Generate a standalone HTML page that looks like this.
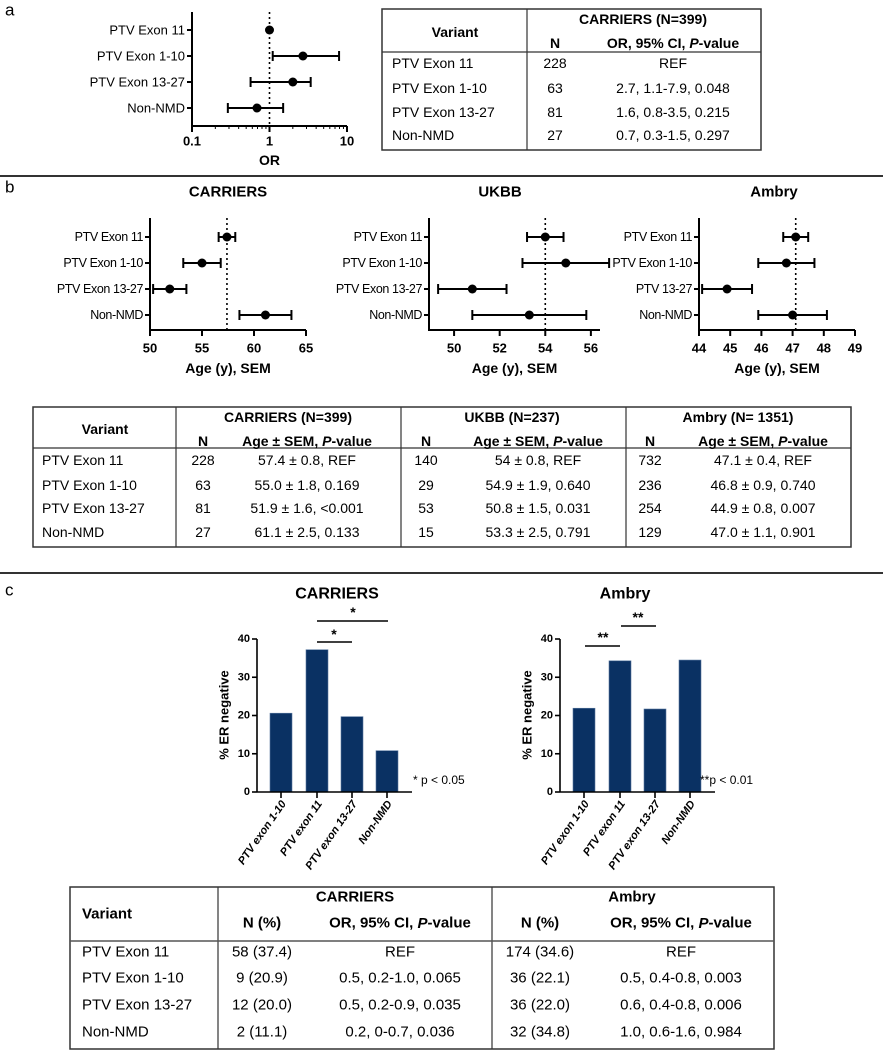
<!DOCTYPE html>
<html><head><meta charset="utf-8"><style>
html,body{margin:0;padding:0;background:#fff}
svg{display:block;font-family:"Liberation Sans",Arial,sans-serif}
</style></head><body>
<svg id="fig" width="883" height="1050" viewBox="0 0 883 1050" xmlns="http://www.w3.org/2000/svg"></svg>
<script>
// ---------- DATA ----------
const forestLabelsA = ["PTV Exon 11","PTV Exon 1-10","PTV Exon 13-27","Non-NMD"];
const forestOR = [1.0, 2.7, 2.0, 0.69];
const forestLo = [1.0, 1.1, 0.57, 0.29];
const forestHi = [1.0, 7.9, 3.4, 1.5];
const forestTicksA = [0.1, 1, 10];

const carriersLabelsB = ["PTV Exon 11","PTV Exon 1-10","PTV Exon 13-27","Non-NMD"];
const carriersAge = [57.4, 55.0, 51.9, 61.1];
const carriersSem = [0.8, 1.8, 1.6, 2.5];
const carriersTicks = [50, 55, 60, 65];
const ukbbLabelsB = ["PTV Exon 11","PTV Exon 1-10","PTV Exon 13-27","Non-NMD"];
const ukbbAge = [54.0, 54.9, 50.8, 53.3];
const ukbbSem = [0.8, 1.9, 1.5, 2.5];
const ukbbTicks = [50, 52, 54, 56];
const ambryLabelsB = ["PTV Exon 11","PTV Exon 1-10","PTV 13-27","Non-NMD"];
const ambryAge = [47.1, 46.8, 44.9, 47.0];
const ambrySem = [0.4, 0.9, 0.8, 1.1];
const ambryTicks = [44, 45, 46, 47, 48, 49];

const barCategories = ["PTV exon 1-10","PTV exon 11","PTV exon 13-27","Non-NMD"];
const carriersERneg = [20.6, 37.2, 19.7, 10.8];
const ambryERneg = [21.9, 34.3, 21.7, 34.5];
const barTicks = [0, 10, 20, 30, 40];

const tableARows = [["PTV Exon 11","228","REF"],["PTV Exon 1-10","63","2.7, 1.1-7.9, 0.048"],["PTV Exon 13-27","81","1.6, 0.8-3.5, 0.215"],["Non-NMD","27","0.7, 0.3-1.5, 0.297"]];
const tableBRows = [
 ["PTV Exon 11","228","57.4 ± 0.8, REF","140","54 ± 0.8, REF","732","47.1 ± 0.4, REF"],
 ["PTV Exon 1-10","63","55.0 ± 1.8, 0.169","29","54.9 ± 1.9, 0.640","236","46.8 ± 0.9, 0.740"],
 ["PTV Exon 13-27","81","51.9 ± 1.6, <0.001","53","50.8 ± 1.5, 0.031","254","44.9 ± 0.8, 0.007"],
 ["Non-NMD","27","61.1 ± 2.5, 0.133","15","53.3 ± 2.5, 0.791","129","47.0 ± 1.1, 0.901"]];
const tableCRows = [
 ["PTV Exon 11","58 (37.4)","REF","174 (34.6)","REF"],
 ["PTV Exon 1-10","9 (20.9)","0.5, 0.2-1.0, 0.065","36 (22.1)","0.5, 0.4-0.8, 0.003"],
 ["PTV Exon 13-27","12 (20.0)","0.5, 0.2-0.9, 0.035","36 (22.0)","0.6, 0.4-0.8, 0.006"],
 ["Non-NMD","2 (11.1)","0.2, 0-0.7, 0.036","32 (34.8)","1.0, 0.6-1.6, 0.984"]];

// ---------- HELPERS ----------
const NS = "http://www.w3.org/2000/svg";
const svg = document.getElementById("fig");
function mk(tag, attrs, name){
  const el = document.createElementNS(NS, tag);
  for (const k in attrs) el.setAttribute(k, attrs[k]);
  
  
  svg.appendChild(el);
  return el;
}
function line(x1,y1,x2,y2,w,name,extra){
  const a = {x1:x1,y1:y1,x2:x2,y2:y2,stroke:"#000","stroke-width":w};
  if (extra) for (const k in extra) a[k]=extra[k];
  return mk("line", a, name);
}
function text(x,y,s,size,anchor,name,opts){
  opts = opts||{};
  const a = {x:x,y:y,"font-size":size,"text-anchor":anchor,"dominant-baseline":"central",fill:opts.fill||"#000"};
  if (opts.bold) a["font-weight"]="bold";
  if (opts.italic) a["font-style"]="italic";
  if (opts.transform) a.transform=opts.transform;
  if (opts.ls) a["letter-spacing"]=opts.ls;
  const el = mk("text", a, name);
  if (opts.pItalic && s.indexOf("P-")>=0){
    const i = s.indexOf("P-");
    el.appendChild(document.createTextNode(s.slice(0,i)));
    const t = document.createElementNS(NS,"tspan");
    t.setAttribute("font-style","italic");
    t.textContent="P";
    el.appendChild(t);
    el.appendChild(document.createTextNode(s.slice(i+1)));
  } else el.textContent = s;
  return el;
}

// ---------- PANEL LETTERS / DIVIDERS ----------
text(5,10,"a",17,"start","panel-a-label");
text(5,187,"b",17,"start","panel-b-label");
text(5,590,"c",17,"start","panel-c-label");
line(0,176,883,176,2,"divider-a-b",{stroke:"#333"});
line(0,573,883,573,2,"divider-b-c",{stroke:"#333"});

// ---------- PANEL A FOREST (log) ----------
(function(){
  const x0=192, x1=347, yTop=12, yAx=126, rows=[30,56,82,108];
  const lmin=Math.log10(0.1), lmax=Math.log10(10);
  const xs = v => x0 + (Math.log10(v)-lmin)/(lmax-lmin)*(x1-x0);
  line(x0,yTop,x0,yAx,2,"a-y-axis");
  line(x0-1,yAx,x1,yAx,2,"a-x-axis");
  for (let d=0; d<2; d++) for (let m=1; m<10; m++){
    const v = Math.pow(10,d-1)*m; const big = (m===1);
    line(xs(v),yAx,xs(v),yAx+(big?6:3),big?2:1,"a-x-tick");
  }
  line(x1,yAx,x1,yAx+6,2,"a-x-tick");
  forestTicksA.forEach(t=>text(xs(t),141,String(t),13,"middle","a-x-tick-label",{bold:true}));
  text((x0+x1)/2,160,"OR",14,"middle","a-x-axis-title",{bold:true});
  line(xs(1),yTop,xs(1),yAx,1.6,"a-reference-line",{"stroke-dasharray":"2,3"});
  forestLabelsA.forEach((lab,i)=>{
    const y=rows[i];
    line(x0-5,y,x0,y,2,"a-y-tick");
    text(x0-7,y,lab,13,"end","a-row-label");
    if (forestHi[i]!==forestLo[i]){
      line(xs(forestLo[i]),y,xs(forestHi[i]),y,2,"a-ci-line");
      line(xs(forestLo[i]),y-5,xs(forestLo[i]),y+5,2,"a-ci-cap");
      line(xs(forestHi[i]),y-5,xs(forestHi[i]),y+5,2,"a-ci-cap");
    }
    mk("circle",{cx:xs(forestOR[i]),cy:y,r:4.5,fill:"#000"},"a-or-point");
  });
})();

// ---------- TABLE A ----------
(function(){
  mk("rect",{x:382,y:9,width:379,height:141,fill:"none",stroke:"#333","stroke-width":1.5},"table-a-border");
  line(527,9,527,150,1.2,"table-a-divider",{stroke:"#333"});
  line(382,52,761,52,1.2,"table-a-header-line",{stroke:"#333"});
  text(455,32,"Variant",14,"middle","table-a-header-variant",{bold:true});
  text(643,19,"CARRIERS (N=399)",14,"middle","table-a-header-carriers",{bold:true});
  text(555,43,"N",14,"middle","table-a-header-n",{bold:true});
  text(673,43,"OR, 95% CI, P-value",14,"middle","table-a-header-or",{bold:true,pItalic:true});
  const ys=[63,88,112,135];
  tableARows.forEach((r,i)=>{
    text(392,ys[i],r[0],14,"start","table-a-variant");
    text(555,ys[i],r[1],14,"middle","table-a-n");
    text(673,ys[i],r[2],14,"middle","table-a-or");
  });
})();

// ---------- PANEL B FORESTS ----------
function ageForest(title,titleX,labels,ages,sems,ticks,axL,axR,vL,vR,pfx){
  const rows=[237,263,289,315], yTop=218, yAx=330;
  const xs = v => axL + (v-vL)/(vR-vL)*(axR-axL);
  text(titleX,192,title,15,"middle",pfx+"-title",{bold:true});
  line(axL,yTop,axL,yAx,2,pfx+"-y-axis");
  line(axL-1,yAx,axR,yAx,2,pfx+"-x-axis");
  ticks.forEach(t=>{
    line(xs(t),yAx,xs(t),yAx+6,2,pfx+"-x-tick");
    text(xs(t),348,String(t),13,"middle",pfx+"-x-tick-label",{bold:true});
  });
  text((axL+axR)/2,368,"Age (y), SEM",14,"middle",pfx+"-x-axis-title",{bold:true});
  line(xs(ages[0]),yTop,xs(ages[0]),yAx,1.6,pfx+"-reference-line",{"stroke-dasharray":"2,3"});
  labels.forEach((lab,i)=>{
    const y=rows[i];
    line(axL-5,y,axL,y,2,pfx+"-y-tick");
    text(axL-7,y,lab,12.5,"end",pfx+"-row-label",{ls:"-0.4"});
    const lo=xs(ages[i]-sems[i]), hi=xs(ages[i]+sems[i]);
    line(lo,y,hi,y,2,pfx+"-sem-line");
    line(lo,y-5,lo,y+5,2,pfx+"-sem-cap");
    line(hi,y-5,hi,y+5,2,pfx+"-sem-cap");
    mk("circle",{cx:xs(ages[i]),cy:y,r:4.5,fill:"#000"},pfx+"-age-point");
  });
}
ageForest("CARRIERS",228,carriersLabelsB,carriersAge,carriersSem,carriersTicks,150,306,50,65,"b-carriers");
ageForest("UKBB",500,ukbbLabelsB,ukbbAge,ukbbSem,ukbbTicks,429,600,48.9,56.4,"b-ukbb");
ageForest("Ambry",774,ambryLabelsB,ambryAge,ambrySem,ambryTicks,699,855,44,49,"b-ambry");

// ---------- TABLE B ----------
(function(){
  mk("rect",{x:33,y:407,width:818,height:140,fill:"none",stroke:"#333","stroke-width":1.5},"table-b-border");
  [176,401,626].forEach(x=>line(x,407,x,547,1.2,"table-b-divider",{stroke:"#333"}));
  line(33,448,851,448,1.2,"table-b-header-line",{stroke:"#333"});
  text(105,429,"Variant",14,"middle","table-b-header-variant",{bold:true});
  text(288,417,"CARRIERS (N=399)",14,"middle","table-b-header-carriers",{bold:true});
  text(512,417,"UKBB (N=237)",14,"middle","table-b-header-ukbb",{bold:true});
  text(738,417,"Ambry (N= 1351)",14,"middle","table-b-header-ambry",{bold:true});
  const nx=[203,426,650], ax=[307,538,763];
  for (let k=0;k<3;k++){
    text(nx[k],441,"N",14,"middle","table-b-header-n",{bold:true});
    text(ax[k],441,"Age ± SEM, P-value",14,"middle","table-b-header-age",{bold:true,pItalic:true});
  }
  const ys=[460,485,508,532];
  tableBRows.forEach((r,i)=>{
    text(42,ys[i],r[0],14,"start","table-b-variant");
    for (let k=0;k<3;k++){
      text(nx[k],ys[i],r[1+2*k],14,"middle","table-b-n");
      text(ax[k],ys[i],r[2+2*k],14,"middle","table-b-age");
    }
  });
})();

// ---------- PANEL C BARS ----------
function barChart(title,titleX,vals,axX,centers,axR,pfx){
  const y0=792, y40=639;
  const ys = v => y0 - v/40*(y0-y40);
  text(titleX,594,title,16,"middle",pfx+"-title",{bold:true});
  vals.forEach((v,i)=>{
    mk("rect",{x:centers[i]-11,y:ys(v),width:22,height:y0-ys(v),fill:"#0a3163",stroke:"#5a79a0","stroke-width":0.6},pfx+"-bar");
  });
  line(axX,y40,axX,y0,1.6,pfx+"-y-axis");
  line(axX,y0,axR,y0,1.6,pfx+"-x-axis");
  barTicks.forEach(t=>{
    line(axX-5,ys(t),axX,ys(t),1.6,pfx+"-y-tick");
    text(axX-7,ys(t),String(t),11,"end",pfx+"-y-tick-label",{bold:true});
  });
  text(axX-33,715,"% ER negative",13,"middle",pfx+"-y-axis-title",{bold:true,transform:`rotate(-90 ${axX-33} 715)`});
  barCategories.forEach((c,i)=>{
    line(centers[i],y0,centers[i],y0+6,1.6,pfx+"-x-tick");
    text(centers[i]+3,y0+10,c,11,"end",pfx+"-x-tick-label",{bold:true,italic:true,transform:`rotate(-55 ${centers[i]+3} ${y0+10})`});
  });
}
const cCent=[281,317,352,387], aCent=[584,620,655,690];
barChart("CARRIERS",337,carriersERneg,257,cCent,412,"c-carriers");
barChart("Ambry",625,ambryERneg,560,aCent,715,"c-ambry");
line(317,642,352,642,1.5,"c-carriers-sig-line");
text(334,634,"*",14,"middle","c-carriers-sig-star",{bold:true});
line(317,621,388,621,1.5,"c-carriers-sig-line");
text(353,612,"*",14,"middle","c-carriers-sig-star",{bold:true});
line(585,646,620,646,1.5,"c-ambry-sig-line");
text(603,637,"**",14,"middle","c-ambry-sig-star",{bold:true});
line(621,626,656,626,1.5,"c-ambry-sig-line");
text(638,617,"**",14,"middle","c-ambry-sig-star",{bold:true});
text(413,780,"* p < 0.05",12,"start","c-carriers-sig-note");
text(700,780,"**p < 0.01",12,"start","c-ambry-sig-note");

// ---------- TABLE C ----------
(function(){
  mk("rect",{x:70,y:887,width:704,height:162,fill:"none",stroke:"#333","stroke-width":1.5},"table-c-border");
  [218,492].forEach(x=>line(x,887,x,1049,1.2,"table-c-divider",{stroke:"#333"}));
  line(70,941,774,941,1.5,"table-c-header-line",{stroke:"#555"});
  text(82,914,"Variant",15,"start","table-c-header-variant",{bold:true});
  text(355,897,"CARRIERS",15,"middle","table-c-header-carriers",{bold:true});
  text(632,897,"Ambry",15,"middle","table-c-header-ambry",{bold:true});
  const nx=[262,540], ox=[400,681];
  for (let k=0;k<2;k++){
    text(nx[k],923,"N (%)",15,"middle","table-c-header-n",{bold:true});
    text(ox[k],923,"OR, 95% CI, P-value",15,"middle","table-c-header-or",{bold:true,pItalic:true});
  }
  const ys=[952,978,1005,1032];
  tableCRows.forEach((r,i)=>{
    text(82,ys[i],r[0],15,"start","table-c-variant");
    for (let k=0;k<2;k++){
      text(nx[k],ys[i],r[1+2*k],15,"middle","table-c-n");
      text(ox[k],ys[i],r[2+2*k],15,"middle","table-c-or");
    }
  });
})();
</script>
</body></html>
